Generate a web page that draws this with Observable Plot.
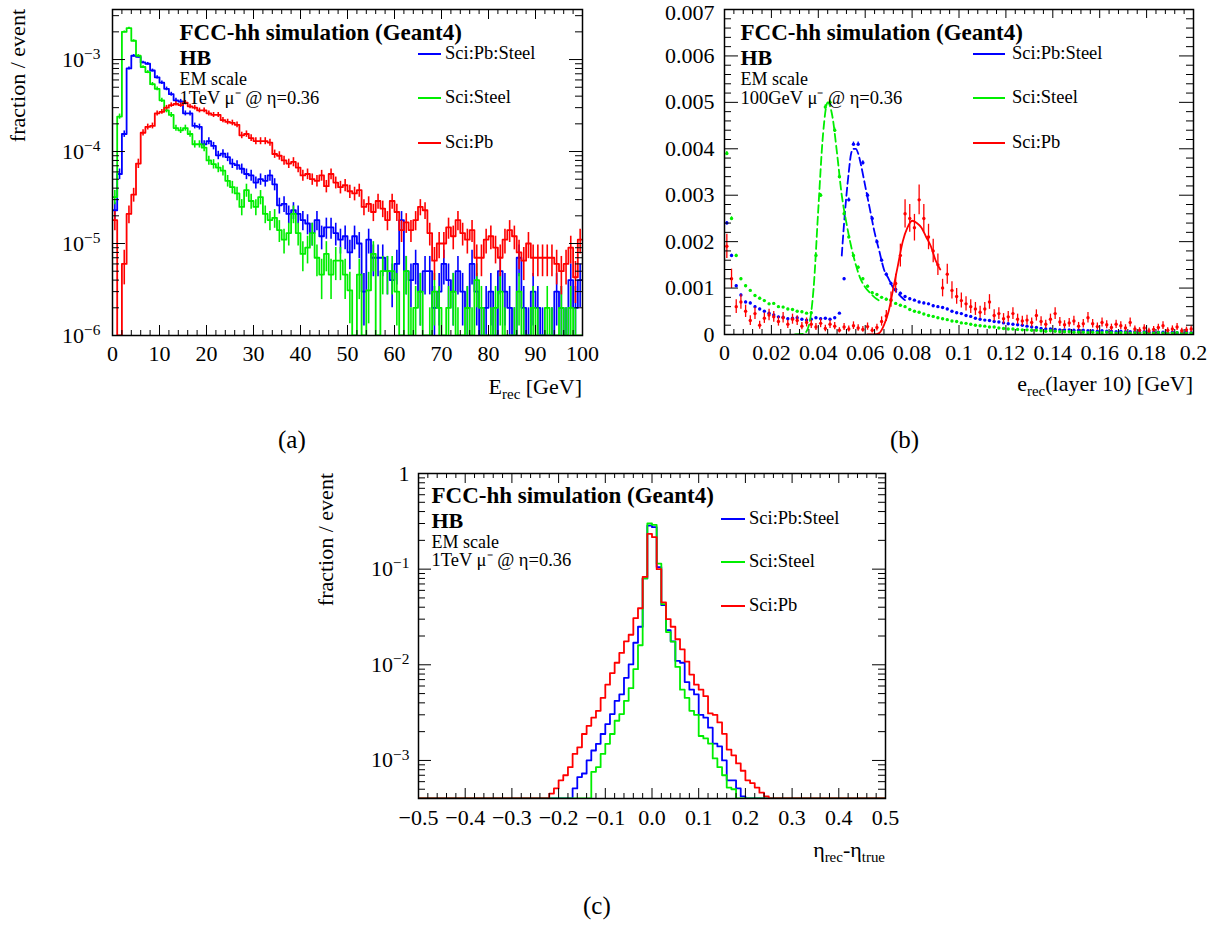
<!DOCTYPE html>
<html><head><meta charset="utf-8">
<script src="https://cdn.jsdelivr.net/npm/d3@7"></script>
<script src="https://cdn.jsdelivr.net/npm/@observablehq/plot@0.6"></script>
<style>
body{margin:0;background:#fff;}
#page{position:relative;width:1225px;height:926px;font-family:"Liberation Serif","Times New Roman",Times,serif;color:#000;overflow:hidden;background:#fff}
.abs{position:absolute;white-space:nowrap;line-height:1}
.sub{font-size:0.68em;position:relative;top:0.32em}
.leg{position:absolute;height:0;border-top:2px solid}
svg{max-width:none !important}
</style></head><body><div id="page"></div>
<script>
// ---------------- shared series description ----------------
const seriesNames  = ["Sci:Pb:Steel", "Sci:Steel", "Sci:Pb"];
const seriesColors = ["#0000ff", "#00ee00", "#ff0000"];

// ---------------- panel (a): E_rec, 1 GeV bins 0..100 ----------------
const eRecEdges = d3.range(0, 101, 1);
const eRecSciPbSteel = [2.3e-5,5.7e-5,1.55e-4,8e-4,1.1e-3,1.07e-3,9.3e-4,9e-4,7.6e-4,6.4e-4,
 5.6e-4,4.8e-4,4.2e-4,3.6e-4,3.5e-4,2.6e-4,2.6e-4,1.9e-4,1.85e-4,1.2e-4,
 1.3e-4,1.15e-4,9.1e-5,9.5e-5,8.7e-5,7.4e-5,7.1e-5,6.5e-5,5.7e-5,5.5e-5,
 4.6e-5,5e-5,4.8e-5,5.5e-5,4.4e-5,2.6e-5,2.7e-5,2.1e-5,2.3e-5,2.1e-5,
 1.8e-5,1.65e-5,1.3e-5,1.8e-5,1.2e-5,1.5e-5,1.5e-5,1.3e-5,1.1e-5,1.2e-5,
 8e-6,1.2e-5,1e-5,3e-6,1.1e-5,7e-6,7e-6,7e-6,5e-6,4e-6,
 6e-6,1.8e-5,5e-6,4e-6,6e-6,3e-6,5e-6,5e-6,2e-6,3e-6,
 6e-6,4e-6,3e-6,5e-6,3e-6,2e-6,6e-6,3e-6,1e-6,2e-6,
 3e-6,1e-6,5e-6,3e-6,2e-6,1e-6,7e-6,2e-6,1e-6,3e-6,
 2e-6,1e-6,0,1e-6,3e-6,2e-6,1e-6,4e-6,2e-6,4e-6];
const eRecSciSteel = [3.2e-5,2.4e-4,2.0e-3,2.2e-3,1.6e-3,1.1e-3,8.3e-4,7.3e-4,5.4e-4,4.8e-4,
 3.6e-4,2.8e-4,2.5e-4,1.8e-4,1.7e-4,1.8e-4,1.55e-4,1.2e-4,1.2e-4,1.1e-4,
 8e-5,7.3e-5,6.7e-5,6.2e-5,4.8e-5,4.1e-5,3.5e-5,2.5e-5,3.8e-5,2.9e-5,
 2.5e-5,3.2e-5,2.1e-5,1.8e-5,1.9e-5,1.4e-5,1.1e-5,1.3e-5,2.1e-5,1.3e-5,
 7.7e-6,9e-6,1.3e-5,7e-6,4.6e-6,7.7e-6,4.6e-6,6.5e-6,6.5e-6,4.6e-6,
 3.1e-6,0,4.6e-6,0,3.1e-6,7.7e-6,0,5e-6,5e-6,5e-6,
 3e-6,0,5e-6,1e-6,2e-6,3e-6,0,1e-6,3e-6,2e-6,
 0,2e-6,3e-6,1e-6,0,2e-6,1e-6,4e-6,2e-6,0,
 1e-6,2e-6,3e-6,1e-6,0,1e-6,3e-6,1e-6,0,2e-6,
 1e-6,0,2e-6,1e-6,0,2e-6,1e-6,2e-6,1e-6,0];
const eRecSciPb = [1.8e-5,0,6e-6,2.1e-5,3.4e-5,7.4e-5,1.6e-4,1.85e-4,1.9e-4,2.6e-4,
 2.7e-4,3.0e-4,3.2e-4,3.3e-4,3.2e-4,3.4e-4,3.1e-4,3.0e-4,2.8e-4,2.8e-4,
 2.6e-4,2.5e-4,2.5e-4,2.2e-4,2.1e-4,2.05e-4,1.95e-4,1.5e-4,1.55e-4,1.4e-4,
 1.3e-4,1.3e-4,1.3e-4,1.25e-4,9.4e-5,9e-5,8e-5,7.4e-5,7.7e-5,6.7e-5,
 5.5e-5,5.7e-5,5e-5,4.8e-5,5.5e-5,4.2e-5,5.7e-5,4.6e-5,4.1e-5,4.3e-5,
 3.7e-5,3.5e-5,3.8e-5,2.5e-5,2.7e-5,2.2e-5,2.9e-5,2.4e-5,1.8e-5,2.9e-5,
 2.2e-5,1.4e-5,1.7e-5,1.4e-5,1.8e-5,2.5e-5,2.3e-5,1.3e-5,6.5e-6,1.0e-5,
 1.0e-5,1.5e-5,1.2e-5,1.8e-5,1.3e-5,1.1e-5,1.4e-5,7e-6,7e-6,1.1e-5,
 1.2e-5,9e-6,7e-6,1.1e-5,1.4e-5,1.2e-5,8e-6,6.5e-6,1.0e-5,7e-6,
 7e-6,7e-6,7e-6,7e-6,6e-6,5e-6,6e-6,9e-6,4.3e-6,1.1e-5];
const eRecEvents = 1e6;
const eRecXTicks = [0,10,20,30,40,50,60,70,80,90,100];
const eRecYTicks = [1e-6,1e-5,1e-4,1e-3];

// ---------------- panel (b): e_rec(layer 10), 0.002 GeV bins ----------------
const layerCenters = d3.range(100).map(i => 0.001 + 0.002 * i);
const layerSciPbSteel = [0.0024,0.0017,0.00105,0.00085,0.0007,0.00068,0.0006,0.00055,0.0005,0.00046,
 0.00042,0.00038,0.00037,0.00034,0.00035,0.00036,0.00033,0.00031,0.00033,0.00036,
 0.00034,0.00035,0.00033,0.00036,0.00046,0.0012,0.0029,0.0041,0.0041,0.0037,
 0.0030,0.0025,0.0020,0.0016,0.0013,0.0011,0.00097,0.00089,0.00082,0.00077,
 0.00074,0.0007,0.00068,0.00066,0.00062,0.0006,0.00058,0.00055,0.0005,0.00047,
 0.00045,0.00041,0.00039,0.00035,0.00033,0.00031,0.0003,0.00028,0.00027,0.00025,
 0.00023,0.00022,0.00021,0.0002,0.00018,0.00016,0.00015,0.00013,0.00012,0.00012,
 0.00011,0.0001,0.0001,0.0001,0.00009,0.00009,0.00009,0.00008,0.00008,0.00007,
 0.00008,0.00007,0.00007,0.00006,0.00007,0.00006,0.00006,0.00006,0.00005,0.00006,
 0.00005,0.00005,0.00005,0.00005,0.00004,0.00005,0.00004,0.00004,0.00005,0.00004];
const layerSciSteel = [0.0039,0.0025,0.0017,0.0012,0.00105,0.00095,0.00084,0.00078,0.00073,0.00066,
 0.00067,0.0006,0.00059,0.00055,0.00054,0.0005,0.00049,0.00046,0.00047,0.0017,
 0.0030,0.0049,0.0050,0.0044,0.0034,0.0026,0.0021,0.0017,0.00145,0.0012,
 0.00104,0.0009,0.00086,0.0008,0.00076,0.00073,0.00067,0.00063,0.0006,0.00054,
 0.0005,0.00048,0.00044,0.00041,0.00039,0.00036,0.00034,0.00032,0.00029,0.00028,
 0.00025,0.00024,0.00022,0.0002,0.00019,0.00018,0.00016,0.00016,0.00014,0.00013,
 0.00012,0.00012,0.00011,0.0001,0.0001,0.00009,0.00009,0.00008,0.00007,0.00008,
 0.00007,0.00006,0.00006,0.00006,0.00005,0.00005,0.00005,0.00004,0.00005,0.00004,
 0.00004,0.00005,0.00004,0.00003,0.00004,0.00004,0.00003,0.00004,0.00003,0.00004,
 0.00003,0.00003,0.00004,0.00003,0.00003,0.00003,0.00004,0.00003,0.00003,0.00003];
const layerSciPb = [0.0019,0.0012,0.0006,0.0007,0.0005,0.0003,0.00045,0.0002,0.00035,0.00042,
 0.00038,0.00028,0.00036,0.00022,0.00033,0.0003,0.00018,0.00026,0.00022,0.00016,
 0.00024,0.00013,0.00022,0.00018,0.00009,0.00016,0.00012,0.00019,0.00014,0.00011,
 0.00017,0.00009,0.00015,0.00028,0.0004,0.00075,0.0011,0.0017,0.0026,0.0025,
 0.0023,0.0029,0.0025,0.0021,0.0018,0.0015,0.0010,0.0013,0.00095,0.00082,
 0.00073,0.00066,0.0006,0.00055,0.00048,0.00055,0.0007,0.00041,0.00045,0.00034,
 0.00038,0.00045,0.00033,0.00029,0.00031,0.00026,0.00041,0.00028,0.00022,0.00033,
 0.00045,0.00027,0.00021,0.00025,0.00029,0.00018,0.00023,0.00036,0.00023,0.00017,
 0.00026,0.00021,0.00015,0.00022,0.00019,0.00014,0.00026,0.00012,0.00009,0.00014,
 0.00008,0.00011,0.00015,0.00019,0.00009,0.00012,0.00016,0.00008,0.0001,0.00012];
const layerEvents = [2e6, 2e6, 2.8e4];
// fitted curves
const fitSciPbSteelX = [0.050,0.051,0.052,0.053,0.054,0.055,0.056,0.057,0.058,0.060,0.062,0.064,0.066,0.068,0.070,0.072,0.074,0.076,0.078];
const fitSciPbSteelY = [0.0017,0.0024,0.0030,0.0035,0.0039,0.0040,0.0040,0.0039,0.0037,0.0032,0.0027,0.0022,0.0018,0.0014,0.0012,0.0010,0.00088,0.00078,0.0007];
const fitSciSteelX = [0.030,0.034,0.036,0.038,0.040,0.042,0.044,0.046,0.048,0.050,0.052,0.054,0.056,0.058,0.060,0.062,0.064,0.066];
const fitSciSteelY = [0,0.00002,0.0002,0.0010,0.0027,0.0043,0.0050,0.0047,0.0039,0.0030,0.0024,0.0019,0.0015,0.0012,0.00102,0.0009,0.0008,0.00073];
const fitSciPbX = [0.061,0.064,0.066,0.068,0.070,0.072,0.074,0.076,0.078,0.080,0.082,0.084,0.086,0.088,0.090,0.092];
const fitSciPbY = [0,0,0.00003,0.0002,0.0005,0.0010,0.0015,0.0020,0.0023,0.00245,0.0024,0.0023,0.0021,0.0019,0.0016,0.0014];
const layerXTicks = [0,0.02,0.04,0.06,0.08,0.1,0.12,0.14,0.16,0.18,0.2];
const layerYTicks = [0,0.001,0.002,0.003,0.004,0.005,0.006,0.007];

// ---------------- panel (c): eta_rec - eta_true, 0.01 bins -0.5..0.5 ----------------
const etaEdges = d3.range(101).map(i => -0.5 + 0.01 * i);
const etaSciPbSteel = [0,0,0,0,0,0,0,0,0,0, 0,0,0,0,0,0,0,0,0,0, 0,0,0,0,0,0,0,0,0,0, 0,0,0,
 5.1e-4,6.7e-4,7.3e-4,1.0e-3,1.27e-3,1.49e-3,1.89e-3,2.4e-3,3.05e-3,4.2e-3,4.9e-3,7.3e-3,0.0101,0.017,0.025,0.080,0.285,0.275,
 0.105,0.042,0.023,0.0176,0.011,0.0105,0.0066,0.0055,0.0049,0.0030,0.0028,0.0022,0.0015,0.0014,0.0010,0.00062,0.00062,0.00051,0.00042,
 0,0,0,0,0,0,0,0,0,0, 0,0,0,0,0,0,0,0,0,0, 0,0,0,0,0,0,0,0,0,0];
const etaSciSteel = [0,0,0,0,0,0,0,0,0,0, 0,0,0,0,0,0,0,0,0,0, 0,0,0,0,0,0,0,0,0,0, 0,0,0,0,0,0,0,
 7.6e-4,8.5e-4,1.17e-3,1.49e-3,1.89e-3,2.6e-3,3.05e-3,4.2e-3,5.7e-3,9.0e-3,0.016,0.08,0.30,0.29,
 0.114,0.043,0.022,0.0175,0.0095,0.0055,0.0045,0.0033,0.0030,0.0018,0.0017,0.0015,0.00105,0.00085,0.0007,0.00052,0.0005,
 0,0,0,0,0,0,0,0,0,0, 0,0,0,0,0,0,0,0,0,0, 0,0,0,0,0,0,0,0,0,0, 0,0];
const etaSciPb = [0,0,0,0,0,0,0,0,0,0, 0,0,0,0,0,0,0,0,0,0, 0,0,0,0,0,0,0,0,
 4.5e-4,5.1e-4,6.2e-4,7.0e-4,8.5e-4,1.17e-3,1.37e-3,1.89e-3,2.3e-3,2.8e-3,3.3e-3,4.5e-3,6.2e-3,8.2e-3,0.0105,0.0133,0.0176,0.0206,0.0307,0.039,0.083,0.234,0.216,
 0.10,0.045,0.030,0.025,0.0185,0.0145,0.0108,0.0079,0.0062,0.0055,0.0047,0.0031,0.0030,0.0025,0.0019,0.0013,0.00113,0.00093,0.00078,0.00062,0.00058,0.00052,0.00046,0.00042,
 0,0,0,0,0,0,0,0,0,0, 0,0,0,0,0,0,0,0,0,0, 0,0,0,0,0];
const etaXTicks = [-0.5,-0.4,-0.3,-0.2,-0.1,0,0.1,0.2,0.3,0.4,0.5];
const etaYTicks = [1e-3,1e-2,1e-1,1];

// ---------------- annotation text ----------------
const expTitle = "FCC-hh simulation (Geant4)";
const detLabel = "HB";
const scaleLabel = "EM scale";
const beamA = "1TeV μ⁻ @ η=0.36";
const beamB = "100GeV μ⁻ @ η=0.36";
const beamC = "1TeV μ⁻ @ η=0.36";

// ================= helpers =================
const FONT = '"Liberation Serif","Times New Roman",Times,serif';
const page = document.getElementById("page");

function stepData(edges, values, ymin) {
  const pts = values.map((v, i) => ({x: edges[i], y: Math.max(v, ymin)}));
  pts.push({x: edges[edges.length - 1], y: Math.max(values[values.length - 1], ymin)});
  return pts;
}
function errData(centers, values, nEvents, ymin) {
  return values.map((v, i) => ({x: centers[i], v}))
    .filter(d => d.v > 0)
    .map(d => { const e = Math.sqrt(d.v / nEvents); return {x: d.x, y: d.v, lo: Math.max(d.v - e, ymin), hi: d.v + e}; });
}
function logMinor(lo, hi) {
  const out = [];
  for (let p = Math.floor(Math.log10(lo)); p <= Math.ceil(Math.log10(hi)); p++)
    for (let k = 2; k <= 9; k++) { const v = k * Math.pow(10, p); if (v > lo && v < hi) out.push(v); }
  return out;
}
function frameTicks(o) {
  const s = {stroke: "black", strokeWidth: 1};
  return [
    Plot.tickX(o.xMajor, {x: d => d, insetTop: o.ih - o.xl, ...s}),
    Plot.tickX(o.xMajor, {x: d => d, insetBottom: o.ih - o.xl, ...s}),
    Plot.tickX(o.xMinor, {x: d => d, insetTop: o.ih - o.xs, ...s}),
    Plot.tickX(o.xMinor, {x: d => d, insetBottom: o.ih - o.xs, ...s}),
    Plot.tickY(o.yMajor, {y: d => d, insetRight: o.iw - o.yl, ...s}),
    Plot.tickY(o.yMajor, {y: d => d, insetLeft: o.iw - o.yl, ...s}),
    Plot.tickY(o.yMinor, {y: d => d, insetRight: o.iw - o.ys, ...s}),
    Plot.tickY(o.yMinor, {y: d => d, insetLeft: o.iw - o.ys, ...s})
  ];
}
function note(str, dx, dy, size, weight) {
  return Plot.text([str], {frameAnchor: "top-left", dx, dy, text: d => d, fontSize: size,
    fontWeight: weight, textAnchor: "start", lineAnchor: "middle", fill: "black"});
}
function notes(dx, dys) {
  return [note(expTitle, dx, dys[0], 23, "bold"), note(detLabel, dx, dys[1], 22, "bold"),
          note(scaleLabel, dx, dys[2], 18, "normal"), note(dys[4], dx, dys[3], 18.5, "normal")];
}
function powFmt(d) { const p = Math.round(Math.log10(d)); return p === 0 ? "1" : "10^" + p; }
function superscripts(svg) {
  d3.select(svg).selectAll("text").each(function () {
    const m = /^10\^(-?\d+)$/.exec(this.textContent);
    if (!m) return;
    const el = d3.select(this); el.text(null);
    el.append("tspan").text("10");
    el.append("tspan").attr("dy", "-0.5em").attr("font-size", "0.7em").text(m[1].replace("-", "\u2212"));
  });
}
function mount(svg, left, top, w, h) {
  const div = document.createElement("div");
  div.className = "abs";
  Object.assign(div.style, {left: left + "px", top: top + "px", width: w + "px", height: h + "px", overflow: "hidden"});
  svg.style.maxWidth = "none";
  div.appendChild(svg); page.appendChild(div);
}
function html(content, style) {
  const div = document.createElement("div");
  div.className = "abs"; div.innerHTML = content;
  Object.assign(div.style, style); page.appendChild(div);
  return div;
}
function legend(lineX0, lineX1, textX, ys, size) {
  seriesNames.forEach((n, i) => {
    const l = document.createElement("div"); l.className = "leg";
    Object.assign(l.style, {left: lineX0 + "px", width: (lineX1 - lineX0) + "px", top: (ys[i] - 1) + "px", borderTopColor: seriesColors[i]});
    page.appendChild(l);
    html(n, {left: textX + "px", top: (ys[i] - size / 2 - 1) + "px", fontSize: size + "px"});
  });
}
function yTitle(x, top) {
  html("fraction / event", {left: x + "px", top: top + "px", fontSize: "22px", transformOrigin: "0 0",
    transform: "rotate(-90deg) translate(-100%,-50%)"});
}
const baseStyle = {fontFamily: FONT, fontSize: "22px", background: "transparent", color: "black", maxWidth: "none"};

// ================= panel (a) =================
{
  const W = 610, H = 372, mL = 112, mR = 28, mT = 9, mB = 37, iw = W - mL - mR, ih = H - mT - mB;
  const ymin = 1e-6, ymax = 3.5e-3;
  const vals = [eRecSciPbSteel, eRecSciSteel, eRecSciPb];
  const centers = eRecEdges.slice(0, -1).map(e => e + 0.5);
  const marks = [];
  vals.forEach((v, i) => {
    marks.push(Plot.line(stepData(eRecEdges, v, ymin), {x: "x", y: "y", curve: "step-after", stroke: seriesColors[i], strokeWidth: 1.8, clip: true}));
    marks.push(Plot.ruleX(errData(centers, v, eRecEvents, ymin), {x: "x", y1: "lo", y2: "hi", stroke: seriesColors[i], strokeWidth: 1.6, clip: true}));
  });
  const svg = Plot.plot({
    width: W, height: H, marginLeft: mL, marginRight: mR, marginTop: mT, marginBottom: mB,
    style: baseStyle,
    x: {domain: [0, 100]},
    y: {type: "log", domain: [ymin, ymax]},
    marks: [
      ...marks,
      Plot.frame({stroke: "black", strokeWidth: 1.5}),
      ...frameTicks({xMajor: eRecXTicks, xMinor: d3.range(0, 101, 2).filter(v => v % 10), yMajor: eRecYTicks,
        yMinor: logMinor(ymin, ymax), iw, ih, xl: 10, xs: 5, yl: 13, ys: 7}),
      Plot.axisX({ticks: eRecXTicks, tickSize: 0, tickPadding: 10, label: null, fontSize: 22}),
      Plot.axisY({ticks: eRecYTicks, tickSize: 0, tickPadding: 12, label: null, fontSize: 22, tickFormat: powFmt}),
      ...notes(67, [23, 48, 70, 89, beamA])
    ]
  });
  superscripts(svg);
  mount(svg, 0, 0, W, H);
  yTitle(18, 9);
  html('E<span class="sub">rec</span> [GeV]', {right: (1225 - 582) + "px", top: "376px", fontSize: "22px"});
  legend(418, 441, 445, [54, 98, 143], 18.5);
  html("(a)", {left: "278px", top: "427px", fontSize: "25px"});
}

// ================= panel (b) =================
{
  const W = 605, H = 382, mL = 104, mR = 32, mT = 19, mB = 38, iw = W - mL - mR, ih = H - mT - mB;
  const vals = [layerSciPbSteel, layerSciSteel, layerSciPb];
  const fits = [[fitSciPbSteelX, fitSciPbSteelY, "8,4"], [fitSciSteelX, fitSciSteelY, "8,4"], [fitSciPbX, fitSciPbY, null]];
  const marks = [];
  vals.forEach((v, i) => {
    const fx = fits[i][0], fy = fits[i][1];
    marks.push(Plot.line(fx.map((x, k) => ({x, y: fy[k]})), {x: "x", y: "y", curve: "monotone-x", stroke: seriesColors[i],
      strokeWidth: 1.8, strokeDasharray: fits[i][2], clip: true}));
    const ed = errData(layerCenters, v, layerEvents[i], 0);
    marks.push(Plot.ruleX(ed, {x: "x", y1: "lo", y2: "hi", stroke: seriesColors[i], strokeWidth: 1.3, clip: true}));
    marks.push(Plot.dot(ed, {x: "x", y: "y", r: 1.7, fill: seriesColors[i], stroke: null, clip: true}));
  });
  const fmt = d => String(+d.toFixed(3));
  const svg = Plot.plot({
    width: W, height: H, marginLeft: mL, marginRight: mR, marginTop: mT, marginBottom: mB,
    style: baseStyle,
    x: {domain: [0, 0.2]},
    y: {domain: [0, 0.007]},
    marks: [
      ...marks,
      Plot.frame({stroke: "black", strokeWidth: 1.5}),
      ...frameTicks({xMajor: layerXTicks, xMinor: d3.range(51).filter(k => k % 5).map(k => k * 0.004), yMajor: layerYTicks,
        yMinor: d3.range(36).filter(k => k % 5).map(k => k * 0.0002), iw, ih, xl: 9, xs: 5, yl: 14, ys: 7}),
      Plot.axisX({ticks: layerXTicks, tickSize: 0, tickPadding: 10, label: null, fontSize: 22, tickFormat: fmt}),
      Plot.axisY({ticks: layerYTicks.slice(0, -1), tickSize: 0, tickPadding: 10, label: null, fontSize: 22, tickFormat: fmt}),
      Plot.axisY({ticks: layerYTicks.slice(-1), tickSize: 0, tickPadding: 10, label: null, fontSize: 22, tickFormat: fmt, dy: 3}),
      ...notes(16, [23, 48, 70, 89, beamB])
    ]
  });
  mount(svg, 620, -10, W, H);
  html('e<span class="sub">rec</span>(layer 10) [GeV]', {right: (1225 - 1193) + "px", top: "373px", fontSize: "22px"});
  legend(973, 1005, 1012, [54, 98, 143], 18.5);
  html("(b)", {left: "890px", top: "427px", fontSize: "25px"});
}

// ================= panel (c) =================
{
  const W = 620, H = 380, mL = 118, mR = 35, mT = 13, mB = 42, iw = W - mL - mR, ih = H - mT - mB;
  const ymin = 4e-4, ymax = 1;
  const vals = [etaSciPbSteel, etaSciSteel, etaSciPb];
  const marks = vals.map((v, i) => Plot.line(stepData(etaEdges, v, ymin), {x: "x", y: "y", curve: "step-after",
    stroke: seriesColors[i], strokeWidth: 1.8, clip: true}));
  const svg = Plot.plot({
    width: W, height: H, marginLeft: mL, marginRight: mR, marginTop: mT, marginBottom: mB,
    style: baseStyle,
    x: {domain: [-0.5, 0.5]},
    y: {type: "log", domain: [ymin, ymax]},
    marks: [
      ...marks,
      Plot.frame({stroke: "black", strokeWidth: 1.5}),
      ...frameTicks({xMajor: etaXTicks, xMinor: d3.range(51).filter(k => k % 5).map(k => -0.5 + k * 0.02), yMajor: etaYTicks,
        yMinor: logMinor(ymin, ymax), iw, ih, xl: 10, xs: 5, yl: 13, ys: 7}),
      Plot.axisX({ticks: etaXTicks, tickSize: 0, tickPadding: 11, label: null, fontSize: 22}),
      Plot.axisY({ticks: etaYTicks, tickSize: 0, tickPadding: 9, label: null, fontSize: 22, tickFormat: powFmt}),
      ...notes(13, [22, 47, 69, 87, beamC])
    ]
  });
  superscripts(svg);
  mount(svg, 300, 460, W, H);
  yTitle(326, 473);
  html('η<span class="sub">rec</span>-η<span class="sub">true</span>', {right: (1225 - 885) + "px", top: "839px", fontSize: "22px"});
  legend(721, 745, 749, [519, 562, 606], 18.5);
  html("(c)", {left: "583px", top: "893px", fontSize: "25px"});
}
</script></body></html>
